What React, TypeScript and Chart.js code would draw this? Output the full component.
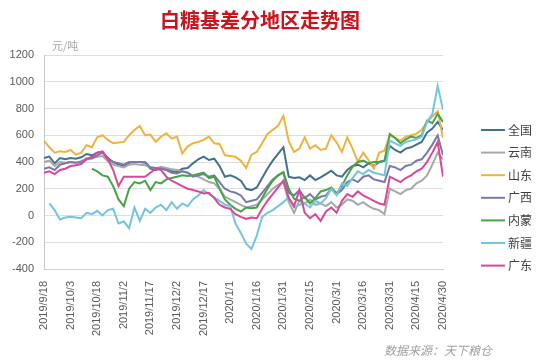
import React, { useEffect, useRef } from "react";
import { Chart, registerables } from "chart.js";

Chart.register(...registerables);

// day offsets from 2019/9/18
const days = [0,3,6,9,12,15,18,21,24,27,30,33,36,39,42,45,48,51,54,57,60,63,66,69,72,75,78,81,84,87,90,93,96,99,102,105,108,111,114,117,120,123,126,129,132,135,138,141,144,147,150,153,156,159,162,165,168,171,174,177,180,183,186,189,192,195,198,201,204,207,210,213,216,219,222,225];

const xTickLabels = ["2019/9/18","2019/10/3","2019/10/18","2019/11/2","2019/11/17","2019/12/2","2019/12/17","2020/1/1","2020/1/16","2020/1/31","2020/2/15","2020/3/1","2020/3/16","2020/3/31","2020/4/15","2020/4/30"];

const seriesNames = ["全国","云南","山东","广西","内蒙","新疆","广东"];
const seriesColors = ["#41718f","#a8a8a8","#eeb240","#7a78aa","#46a346","#73c4e0","#d9479c"];

const quanguo = [430,440,390,430,420,430,425,435,460,450,470,475,430,400,380,370,395,400,400,395,350,340,355,345,330,325,350,355,390,420,440,415,425,370,290,300,285,260,200,190,210,280,350,410,460,510,290,280,285,265,300,265,285,310,335,300,290,340,370,380,360,390,370,400,410,520,490,470,500,510,530,550,620,650,700,640];
const yunnan = [400,410,370,400,395,400,395,405,430,425,440,445,405,380,370,360,380,385,380,375,360,350,365,355,345,340,330,320,300,290,270,250,240,200,140,120,100,80,60,70,80,120,160,200,230,250,100,20,110,90,120,80,90,70,100,60,80,120,110,80,100,70,50,40,10,200,180,160,190,200,240,260,300,380,470,420];
const shandong = [560,510,470,480,475,490,455,470,525,510,585,600,565,540,545,550,600,640,670,600,605,550,590,615,575,590,465,515,540,550,565,590,540,535,450,445,440,410,355,455,475,540,610,640,670,745,555,475,500,585,500,525,490,500,600,545,475,585,500,400,470,415,350,470,485,600,580,560,590,600,610,640,700,740,780,580];
const guangxi = [350,360,340,380,390,400,395,400,420,430,450,470,420,400,390,380,400,400,400,400,360,355,350,340,320,315,330,320,290,300,310,290,300,250,200,180,170,150,100,110,120,170,220,270,300,320,170,150,190,130,160,120,140,150,200,160,190,250,270,250,290,300,270,260,250,370,360,340,370,380,410,420,470,530,600,450];
const neimeng = [null,null,null,null,null,null,null,null,null,350,330,300,290,220,120,70,200,250,240,260,190,250,240,270,280,290,300,295,300,310,320,280,290,200,120,80,50,30,60,55,60,130,200,260,300,325,200,125,110,140,90,130,180,190,210,165,220,300,365,400,410,390,400,400,410,610,580,540,570,590,580,600,710,690,760,700];
const xinjiang = [null,90,40,-30,-15,-10,-15,-20,20,10,35,0,40,50,-60,-45,-95,60,-40,50,20,60,80,40,100,50,90,70,120,150,190,160,135,110,80,70,-60,-130,-210,-250,-150,-10,20,40,70,100,135,60,80,90,60,110,90,130,200,150,240,220,280,330,310,340,320,310,300,560,540,520,550,560,570,590,700,760,970,790];
const guangdong = [320,330,310,340,350,370,375,385,420,440,470,480,420,340,220,290,290,290,290,290,320,350,340,290,260,240,220,200,190,180,165,170,130,80,60,50,10,-10,-25,-15,-20,50,110,160,210,260,130,70,190,20,-20,10,-40,30,60,20,110,160,140,180,150,130,110,90,80,290,270,250,280,300,330,350,400,470,550,290];

const seriesValues = [quanguo, yunnan, shandong, guangxi, neimeng, xinjiang, guangdong];

const FONT = "'Liberation Sans', 'Noto Sans CJK SC', sans-serif";
const CJK = "'Noto Sans CJK SC', sans-serif";

const extras = {
  id: "extras",
  afterDraw(chart: any) {
    const ctx = chart.ctx;
    ctx.save();
    // title
    ctx.font = `bold 20px ${CJK}`;
    ctx.fillStyle = "#c8141c";
    ctx.textAlign = "center";
    ctx.textBaseline = "middle";
    ctx.fillText("白糖基差分地区走势图", 260, 20);
    // unit label
    ctx.font = `11px ${CJK}`;
    ctx.fillStyle = "#a6a6a6";
    ctx.textAlign = "left";
    ctx.fillText("元/吨", 52, 46);
    // legend
    const x0 = 481, x1 = 505, y0 = 130, dy = 22.6;
    chart.data.datasets.forEach((ds: any, i: number) => {
      const y = y0 + i * dy;
      ctx.strokeStyle = ds.borderColor;
      ctx.lineWidth = 2;
      ctx.beginPath();
      ctx.moveTo(x0, y);
      ctx.lineTo(x1, y);
      ctx.stroke();
      ctx.fillStyle = "#404040";
      ctx.font = `12px ${CJK}`;
      ctx.fillText(ds.label, x1 + 3, y);
    });
    // source
    ctx.font = `italic 12px ${CJK}`;
    ctx.fillStyle = "#a0a0a0";
    ctx.textAlign = "right";
    ctx.fillText("数据来源：天下粮仓", 492, 350);
    ctx.restore();
  },
};

export default function App() {
  const ref = useRef<HTMLCanvasElement>(null);
  useEffect(() => {
    document.body.style.margin = "0";
    const canvas = ref.current!;
    const chart = new Chart(canvas, {
      type: "line",
      data: {
        datasets: seriesNames.map((name, i) => ({
          label: name,
          data: days.map((d, j) => ({ x: d, y: seriesValues[i][j] })),
          borderColor: seriesColors[i],
          backgroundColor: seriesColors[i],
          borderWidth: 2,
          pointRadius: 0,
          tension: 0,
          spanGaps: false,
          order: seriesNames.length - i,
        })),
      },
      options: {
        responsive: false,
        animation: false,
        devicePixelRatio: 1,
        layout: { padding: { left: 0, right: 107, top: 55, bottom: 0 } },
        plugins: {
          legend: { display: false },
          tooltip: { enabled: false },
          title: { display: false },
        },
        scales: {
          x: {
            type: "linear",
            min: 0,
            max: 225,
            grid: { display: false },
            border: { display: true, color: "#d0d0d0" },
            afterFit: (s: any) => { s.height = 91; },
            ticks: {
              stepSize: 15,
              autoSkip: false,
              maxRotation: 90,
              minRotation: 90,
              padding: 4,
              color: "#595959",
              font: { size: 11, family: FONT },
              callback: (v: any) => xTickLabels[Math.round(Number(v) / 15)] ?? "",
            },
          },
          y: {
            min: -400,
            max: 1200,
            grid: { color: "#dedede", drawTicks: false },
            border: { display: true, color: "#c8c8c8" },
            afterFit: (s: any) => { s.width = 44; },
            ticks: {
              stepSize: 200,
              padding: 10,
              color: "#595959",
              font: { size: 11, family: FONT },
              callback: (v: any) => String(v),
            },
          },
        },
      },
      plugins: [extras],
    });
    return () => chart.destroy();
  }, []);
  return (
    <div style={{ width: 550, height: 360 }}>
      <canvas ref={ref} width={550} height={360} style={{ display: "block" }} />
    </div>
  );
}
